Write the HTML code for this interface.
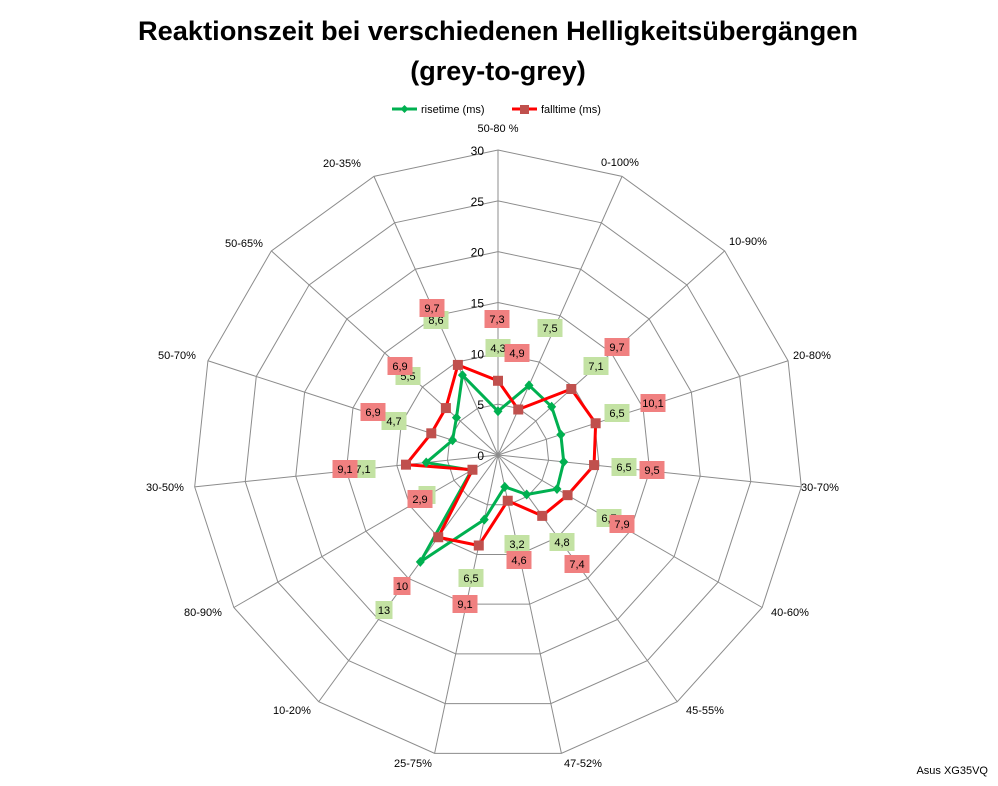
<!DOCTYPE html>
<html><head><meta charset="utf-8"><style>
body{margin:0;background:#fff;}
svg{display:block;font-family:"Liberation Sans",sans-serif;}
</style></head><body>
<svg id="s" width="998" height="786" xmlns="http://www.w3.org/2000/svg">
<rect width="998" height="786" fill="#fff"/>
<text x="498" y="40" text-anchor="middle" font-size="27" font-weight="bold" fill="#000" textLength="720" lengthAdjust="spacingAndGlyphs">Reaktionszeit bei verschiedenen Helligkeitsübergängen</text>
<text x="498" y="80" text-anchor="middle" font-size="27" font-weight="bold" fill="#000">(grey-to-grey)</text>
<line x1="392" y1="109" x2="417" y2="109" stroke="#00b050" stroke-width="3"/>
<polygon points="404.5,105 408.5,109 404.5,113 400.5,109" fill="#00b050"/>
<text x="421" y="113" font-size="11">risetime (ms)</text>
<line x1="512" y1="109" x2="537" y2="109" stroke="#ff0000" stroke-width="3"/>
<rect x="520" y="105" width="9" height="9" fill="#c0504d"/>
<text x="541" y="113" font-size="11">falltime (ms)</text>
<text x="988" y="774" text-anchor="end" font-size="11">Asus XG35VQ</text>
<g id="g"></g>
</svg>
<script>
var cx=498,cy=455,R=305,N=15,ns="http://www.w3.org/2000/svg",g=document.getElementById('g');
function el(t,a,txt){var e=document.createElementNS(ns,t);for(var k in a)e.setAttribute(k,a[k]);if(txt!==undefined)e.textContent=txt;g.appendChild(e);return e;}
function pt(i,v){var a=i*2*Math.PI/N;return [cx+Math.sin(a)*v/30*R,cy-Math.cos(a)*v/30*R];}
for(var r=5;r<=30;r+=5){var p=[];for(var i=0;i<N;i++)p.push(pt(i,r).join(','));el('polygon',{points:p.join(' '),fill:'none',stroke:'#8c8c8c','stroke-width':1});}
for(var i=0;i<N;i++){var q=pt(i,30);el('line',{x1:cx,y1:cy,x2:q[0],y2:q[1],stroke:'#8c8c8c','stroke-width':1});}
for(var r=0;r<=30;r+=5){el('text',{x:484,y:cy-r/30*R+5,'text-anchor':'end','font-size':12},''+r);}
var cats=['50-80 %','0-100%','10-90%','20-80%','30-70%','40-60%','45-55%','47-52%','25-75%','10-20%','80-90%','30-50%','50-70%','50-65%','20-35%'];
var cp=[[498,128],[620,162],[748,241],[812,355],[820,487],[790,612],[705,710],[583,763],[413,763],[292,710],[203,612],[165,487],[177,355],[244,243],[342,163]];
for(var i=0;i<N;i++){el('text',{x:cp[i][0],y:cp[i][1]+4,'text-anchor':'middle','font-size':11},cats[i]);}
var rise=[4.3,7.5,7.1,6.5,6.5,6.7,4.8,3.2,6.5,13,3,7.1,4.7,5.5,8.6];
var fall=[7.3,4.9,9.7,10.1,9.5,7.9,7.4,4.6,9.1,10,2.9,9.1,6.9,6.9,9.7];
var gl=[[498,348],[550,328],[596,366],[617,413],[624,467],[609,518],[562,542],[517,544],[471,578],[384,610],[427,495],[363,469],[394,421],[408,376],[436,320]];
var rl=[[497,319],[517,353],[617,347],[653,403],[652,470],[622,524],[577,564],[519,560],[465,604],[402,586],[420,499],[345,469],[373,412],[400,366],[432,308]];
function series(d,col){var p=[];for(var i=0;i<N;i++)p.push(pt(i,d[i]).join(','));p.push(p[0]);el('polyline',{points:p.join(' '),fill:'none',stroke:col,'stroke-width':3,'stroke-linejoin':'round'});}
series(rise,'#00b050');series(fall,'#ff0000');
for(var i=0;i<N;i++){var q=pt(i,rise[i]);el('polygon',{points:(q[0])+','+(q[1]-5)+' '+(q[0]+4.5)+','+q[1]+' '+q[0]+','+(q[1]+5)+' '+(q[0]-4.5)+','+q[1],fill:'#00b050'});}
for(var i=0;i<N;i++){var q=pt(i,fall[i]);el('rect',{x:q[0]-5,y:q[1]-5,width:10,height:10,fill:'#c0504d'});}
function labs(L,d,bg){for(var i=0;i<N;i++){var s=(''+d[i]).replace('.',',');var w=s.length>2?25:17;el('rect',{x:L[i][0]-w/2,y:L[i][1]-9,width:w,height:18,fill:bg});el('text',{x:L[i][0],y:L[i][1]+4,'text-anchor':'middle','font-size':11},s);}}
labs(gl,rise,'#c3e2a3');labs(rl,fall,'#f08080');
</script>
</body></html>
